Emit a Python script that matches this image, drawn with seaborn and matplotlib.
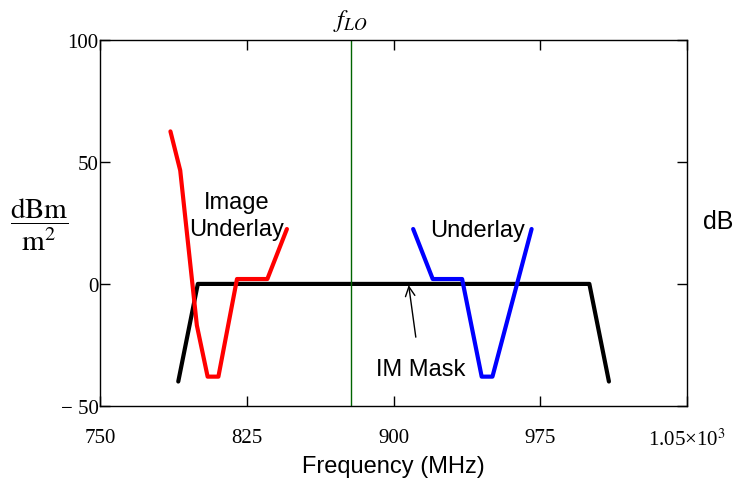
import matplotlib
matplotlib.use("Agg")
import matplotlib.pyplot as plt
import seaborn as sns
import pandas as pd

sns.set_style("ticks", {"text.color": "black", "axes.labelcolor": "black",
                        "xtick.color": "black", "ytick.color": "black"})
plt.rcParams["font.family"] = ["Liberation Sans", "DejaVu Sans"]
plt.rcParams["mathtext.fontset"] = "stix"

# IM mask (black)
mask_f = [790, 800, 1000, 1010]
mask_db = [-40, 0, 0, -40]

# image underlay (red)
image_f = [786, 791, 799.5, 805, 810.5, 820, 835.5, 845.5]
image_db = [62.5, 46.5, -17, -38, -38, 2, 2, 22.5]

# underlay (blue)
under_f = [910, 920, 935, 945, 950.5, 970.5]
under_db = [22.5, 2, 2, -38, -38, 22.5]

f_lo = 878

x_ticks = [750, 825, 900, 975, 1050]
x_labels = ["750", "825", "900", "975", "1.05\u00d710$^{3}$"]
y_ticks = [-50, 0, 50, 100]
y_labels = ["\u2212 50", "0", "50", "100"]

mask = pd.DataFrame({"f": mask_f, "db": mask_db})
image = pd.DataFrame({"f": image_f, "db": image_db})
under = pd.DataFrame({"f": under_f, "db": under_db})

fig, ax = plt.subplots(figsize=(7.35, 4.81), dpi=100)
fig.subplots_adjust(left=0.136, right=0.935, top=0.915, bottom=0.154)

sns.lineplot(data=mask, x="f", y="db", color="black", lw=3, sort=False, estimator=None, ax=ax)
sns.lineplot(data=image, x="f", y="db", color="#ff0000", lw=3, sort=False, estimator=None, ax=ax)
sns.lineplot(data=under, x="f", y="db", color="#0000ff", lw=3, sort=False, estimator=None, ax=ax)
ax.axvline(f_lo, color="#006400", lw=1)

ax.set_xlim(750, 1050)
ax.set_ylim(-50, 100)
ax.set_xticks(x_ticks)
ax.set_xticklabels(x_labels, family="Liberation Serif", fontsize=15)
ax.set_yticks(y_ticks)
ax.set_yticklabels(y_labels, family="Liberation Serif", fontsize=15)
ax.tick_params(axis="x", direction="in", top=True, length=7, width=1, pad=16)
ax.tick_params(axis="y", direction="in", right=True, length=7, width=1, pad=1)
for s in ax.spines.values():
    s.set_visible(True)
    s.set_linewidth(1)
    s.set_color("black")

ax.set_xlabel("Frequency (MHz)", fontsize=17, labelpad=4)
ax.set_ylabel("")
fig.text(39 / 735, 1 - 225 / 481, r"$\dfrac{\mathrm{dBm}}{\mathrm{m}^2}$", fontsize=21,
         ha="center", va="center")
fig.text(718 / 735, 1 - 222 / 481, "dB", fontsize=18, ha="center", va="center")
ax.text(f_lo, 103, r"$f_{LO}$", fontsize=18, ha="center", va="bottom")

ax.text(820, 28, "Image\nUnderlay", fontsize=17, ha="center", va="center", linespacing=1.25)
ax.text(943, 22, "Underlay", fontsize=17, ha="center", va="center")
ax.annotate("IM Mask", xy=(907.7, -0.5), xytext=(913.6, -35), fontsize=17,
            ha="center", va="center",
            arrowprops=dict(arrowstyle="->", color="black", lw=1, shrinkA=13, shrinkB=0))

plt.savefig("out.png", dpi=100)
